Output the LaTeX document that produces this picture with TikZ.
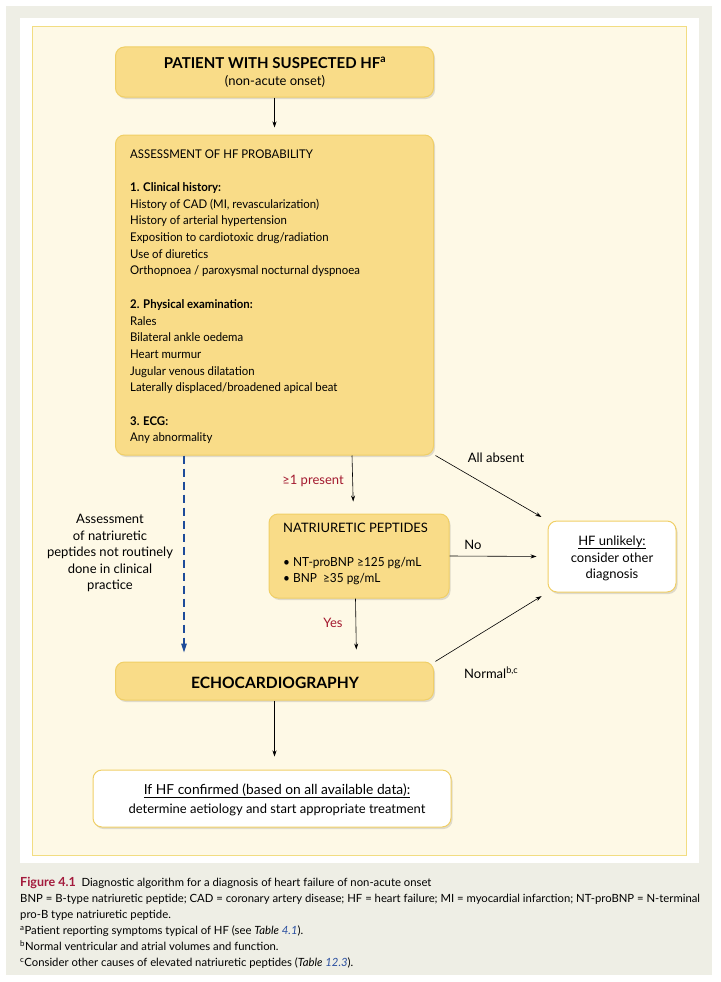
\documentclass[tikz,border=0pt]{standalone}
\usepackage{fontspec}
\setmainfont{Lato}
\newfontfamily\narrowfont[FakeStretch=0.95]{Lato}
\usetikzlibrary{arrows.meta,shadows,calc}
\definecolor{outergray}{HTML}{EEEEE5}
\definecolor{cream}{HTML}{FEF9E6}
\definecolor{creamline}{HTML}{F2DD82}
\definecolor{boxfill}{HTML}{F9DC88}
\definecolor{boxline}{HTML}{F0CF66}
\definecolor{labred}{HTML}{A3192F}
\definecolor{dashblue}{HTML}{1E4C9A}
\definecolor{capred}{HTML}{A31A3C}
\definecolor{refblue}{HTML}{2A4FA0}
\newcommand{\bodyfs}{\fontsize{13}{16}\selectfont}
\newcommand{\smallfs}{\narrowfont\fontsize{12}{16}\selectfont}
\newcommand{\capfs}{\fontsize{11.3}{16}\selectfont}
\tikzset{
  ybox/.style={draw=boxline, line width=1pt, rounded corners=9pt, fill=boxfill,
    drop shadow={shadow xshift=1.5pt, shadow yshift=-2pt, opacity=0.12, fill=black}},
  wbox/.style={ybox, fill=white},
  txt/.style={inner sep=0pt, anchor=base west, font=\bodyfs},
  atxt/.style={inner sep=0pt, anchor=base west, font=\smallfs},
  ctxt/.style={inner sep=0pt, anchor=base, font=\bodyfs},
  captxt/.style={inner sep=0pt, anchor=base west, font=\capfs},
  arr/.style={line width=0.6pt, -{Stealth[length=6pt,width=4pt]}, shorten >=9pt},
  dasharr/.style={draw=dashblue, line width=1.2pt, dash pattern=on 8pt off 5pt,
    -{Triangle[length=9pt,width=5.5pt,fill=dashblue]}, shorten >=9pt}
}
\begin{document}
\begin{tikzpicture}[x=1pt,y=-1pt]
\useasboundingbox (0,0) rectangle (720,982);
\fill[white] (0,0) rectangle (720,982);
\fill[outergray] (6,6) rectangle (712,975);
\fill[white] (20,18) rectangle (699,863);
\filldraw[fill=cream, draw=creamline, line width=0.8pt] (32,26) rectangle (686,855);

% boxes
\node[ybox, minimum width=318pt, minimum height=50pt, inner sep=0pt] (top) at (274.5,72) {};
\node[ybox, minimum width=318pt, minimum height=320pt, inner sep=0pt] (assess) at (274.5,295) {};
\node[ybox, minimum width=180pt, minimum height=84pt, inner sep=0pt] (np) at (359,556) {};
\node[wbox, minimum width=128pt, minimum height=71pt, inner sep=0pt] (hf) at (612,556.5) {};
\node[ybox, minimum width=318pt, minimum height=38pt, inner sep=0pt] (echo) at (274.5,681) {};
\node[wbox, minimum width=358pt, minimum height=57pt, inner sep=0pt] (final) at (272,798.5) {};

% top box text
\node[ctxt, font=\fontsize{15}{16}\selectfont\bfseries] (t1) at (275,68) {PATIENT WITH SUSPECTED HF\textsuperscript{a}};
\node[ctxt] (t2) at (275,85) {(non-acute onset)};

% assessment text
\node[atxt] (a0) at (130,158) {ASSESSMENT OF HF PROBABILITY};
\node[atxt, font=\smallfs\bfseries] (a2) at (130,191.4) {1. Clinical history:};
\node[atxt] (a3) at (130,208.1) {History of CAD (MI, revascularization)};
\node[atxt] (a4) at (130,224.8) {History of arterial hypertension};
\node[atxt] (a5) at (130,241.5) {Exposition to cardiotoxic drug/radiation};
\node[atxt] (a6) at (130,258.2) {Use of diuretics};
\node[atxt] (a7) at (130,274.9) {Orthopnoea / paroxysmal nocturnal dyspnoea};
\node[atxt, font=\smallfs\bfseries] (a9) at (130,308.3) {2. Physical examination:};
\node[atxt] (a10) at (130,325) {Rales};
\node[atxt] (a11) at (130,341.7) {Bilateral ankle oedema};
\node[atxt] (a12) at (130,358.4) {Heart murmur};
\node[atxt] (a13) at (130,375.1) {Jugular venous dilatation};
\node[atxt] (a14) at (130,391.8) {Laterally displaced/broadened apical beat};
\node[atxt, font=\smallfs\bfseries] (a16) at (130,425.2) {3. ECG:};
\node[atxt] (a17) at (130,441.9) {Any abnormality};

% natriuretic peptides text
\node[txt] (n0) at (283,532) {NATRIURETIC PEPTIDES};
\node[atxt, font=\narrowfont\fontsize{12.5}{16}\selectfont] (n1) at (283,566) {\textbullet\ NT-proBNP ≥125 pg/mL};
\node[atxt, font=\narrowfont\fontsize{12.5}{16}\selectfont] (n2) at (283,582) {\textbullet\ BNP\ \ ≥35 pg/mL};

% HF unlikely text
\node[ctxt] (h1) at (612,545) {\underline{HF unlikely:}};
\node[ctxt] (h2) at (612,562) {consider other};
\node[ctxt] (h3) at (612,578) {diagnosis};

% echo text
\node[ctxt, font=\fontsize{15.6}{16}\selectfont\bfseries] (e1) at (275,688) {ECHOCARDIOGRAPHY};

% final text
\node[ctxt, font=\fontsize{13.8}{16}\selectfont] (f1) at (277,794) {\underline{If HF confirmed (based on all available data):}};
\node[ctxt] (f2) at (277,813) {determine aetiology and start appropriate treatment};

% left text
\node[ctxt] (l1) at (110,523) {Assessment};
\node[ctxt] (l2) at (110,540) {of natriuretic};
\node[ctxt] (l3) at (110,556) {peptides not routinely};
\node[ctxt] (l4) at (110,573) {done in clinical};
\node[ctxt] (l5) at (110,589) {practice};

% connector labels
\node[ctxt, text=labred] (lp) at (313,484) {≥1 present};
\node[ctxt] (lab) at (496,462) {All absent};
\node[ctxt] (lno) at (473,549) {No};
\node[ctxt, text=labred] (lyes) at (333,627) {Yes};
\node[txt] (lnorm) at (464,678) {Normal\textsuperscript{b,c}};

% connectors
\draw[arr, shorten >=7pt] (top.south) -- (assess.north);
\draw[arr, shorten >=12pt] ($(assess.south west)+(237,0)$) -- ($(np.north west)+(85,0)$);
\draw[dasharr] ($(assess.south west)+(69,0)$) -- ($(echo.north west)+(69,0)$);
\draw[arr, shorten <=4pt, shorten >=7pt] ($(assess.south east)+(-2,-2)$) -- (hf.north west);
\draw[arr, shorten >=11pt] (np.east) -- (hf.west);
\draw[arr, shorten >=12pt] ($(np.south west)+(87,0)$) -- ($(echo.north west)+(241.5,0)$);
\draw[arr, shorten <=4pt, shorten >=7pt] ($(echo.north east)+(-2,2)$) -- (hf.south west);
\draw[arr, shorten >=13pt] (echo.south) -- (final.north -| echo.south);

% caption
\node[captxt] (c1) at (20,886) {{\fontsize{12.5}{16}\selectfont\bfseries\color{capred}Figure 4.1}\ \ Diagnostic algorithm for a diagnosis of heart failure of non-acute onset};
\node[captxt] (c2) at (20,902) {BNP = B-type natriuretic peptide; CAD = coronary artery disease; HF = heart failure; MI = myocardial infarction; NT-proBNP = N-terminal};
\node[captxt] (c3) at (20,918) {pro-B type natriuretic peptide.};
\node[captxt] (c4) at (20,934) {\textsuperscript{a}Patient reporting symptoms typical of HF (see \textit{Table} {\color{refblue}\textit{4.1}}).};
\node[captxt] (c5) at (20,950) {\textsuperscript{b}Normal ventricular and atrial volumes and function.};
\node[captxt] (c6) at (20,966) {\textsuperscript{c}Consider other causes of elevated natriuretic peptides (\textit{Table} {\color{refblue}\textit{12.3}}).};
\end{tikzpicture}
\end{document}
